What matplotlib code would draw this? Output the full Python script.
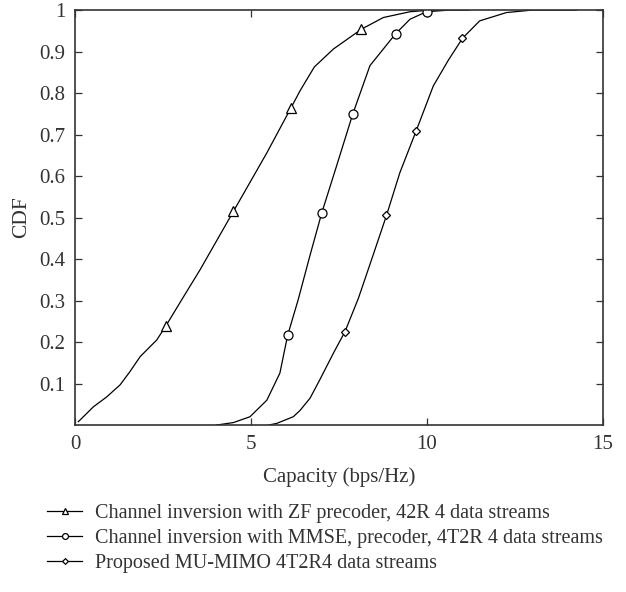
import matplotlib
matplotlib.use("Agg")
import matplotlib.pyplot as plt

plt.rcParams['font.family'] = ['Liberation Serif', 'DejaVu Serif']

# capacity CDF samples (bps/Hz, probability)
zf_x = [0.09, 0.52, 0.90, 1.28, 1.56, 1.85, 2.32, 2.58, 3.03, 3.55, 4.50, 5.45,
        6.14, 6.39, 6.80, 7.34, 8.14, 8.76, 9.52, 10.10, 10.50]
zf_y = [0.008, 0.044, 0.068, 0.097, 0.129, 0.165, 0.205, 0.239, 0.302, 0.374, 0.515, 0.656,
        0.765, 0.805, 0.863, 0.906, 0.954, 0.982, 0.996, 1.0, 1.0]
zf_marks = [7, 10, 12, 16]

mmse_x = [4.02, 4.50, 4.97, 5.45, 5.82, 6.04, 6.34, 6.68, 7.01, 7.43, 7.89, 8.38,
          9.11, 9.52, 9.99, 10.65, 11.20]
mmse_y = [0.0, 0.006, 0.02, 0.06, 0.125, 0.216, 0.302, 0.41, 0.511, 0.624, 0.749, 0.866,
          0.943, 0.978, 0.996, 1.0, 1.0]
mmse_marks = [5, 8, 10, 12, 14]

prop_x = [5.50, 5.73, 6.20, 6.39, 6.68, 6.96, 7.34, 7.67, 8.05, 8.46, 8.85, 9.23,
          9.69, 10.18, 10.60, 11.01, 11.50, 12.26, 13.00, 14.25]
prop_y = [0.0, 0.004, 0.02, 0.035, 0.065, 0.11, 0.173, 0.225, 0.305, 0.407, 0.505, 0.608,
          0.708, 0.817, 0.878, 0.932, 0.974, 0.994, 1.0, 1.0]
prop_marks = [7, 10, 12, 15]

labels = ['Channel inversion with ZF precoder, 42R 4 data streams',
          'Channel inversion with MMSE, precoder, 4T2R 4 data streams',
          'Proposed MU-MIMO 4T2R4 data streams']

fig = plt.figure(figsize=(6.26, 5.92), dpi=100)
ax = fig.add_axes([0.12, 0.282, 0.843, 0.701])

style = dict(color='black', lw=0.9, mfc='white', mec='black', mew=0.9)
ax.plot(zf_x, zf_y, marker='^', ms=6.5, markevery=zf_marks, label=labels[0], **style)
ax.plot(mmse_x, mmse_y, marker='o', ms=6.5, markevery=mmse_marks, label=labels[1], **style)
ax.plot(prop_x, prop_y, marker='D', ms=4.5, markevery=prop_marks, label=labels[2], **style)

ax.set_xlim(0, 15)
ax.set_ylim(0, 1)
ax.set_xticks([0, 5, 10, 15])
ax.set_yticks([0.1, 0.2, 0.3, 0.4, 0.5, 0.6, 0.7, 0.8, 0.9, 1])
ax.set_yticklabels(['0.1', '0.2', '0.3', '0.4', '0.5', '0.6', '0.7', '0.8', '0.9', '1'])
ax.tick_params(direction='in', top=True, right=True, length=5, width=0.9,
               labelsize=15, colors='#333333', pad=7)
ax.tick_params(axis='x', pad=7)
for s in ax.spines.values():
    s.set_linewidth(1.2)
    s.set_color('#333333')

ax.set_xlabel('Capacity (bps/Hz)', fontsize=15, color='#333333', labelpad=10)
ax.set_ylabel('CDF', fontsize=15.5, color='#333333', labelpad=6)

fig.legend(loc='upper left', bbox_to_anchor=(0.063, 0.162), frameon=False,
           fontsize=14.5, handlelength=1.7, handletextpad=0.65, labelspacing=0.28,
           markerscale=0.65, borderaxespad=0, labelcolor='#333333')

fig.savefig('out.png', dpi=100)
